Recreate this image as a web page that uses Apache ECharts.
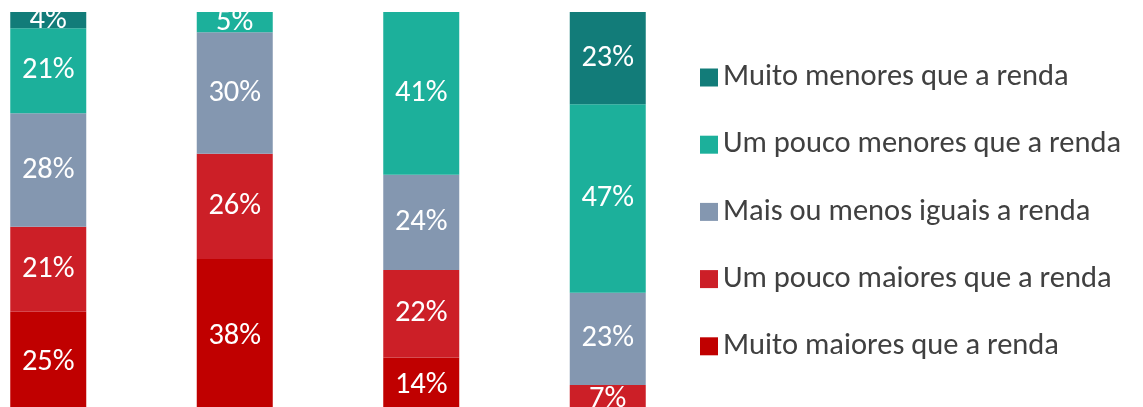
<!DOCTYPE html>
<html><head><meta charset="utf-8">
<script src="https://cdn.jsdelivr.net/npm/echarts@6/dist/echarts.min.js"></script>
<style>html,body{margin:0;padding:0;background:#fff}#c{width:1143px;height:407px}</style>
</head><body><div id="c"></div>
<script>
const categories = ['A', 'B', 'C', 'D'];
const seriesNames = ['Muito maiores que a renda', 'Um pouco maiores que a renda', 'Mais ou menos iguais a renda', 'Um pouco menores que a renda', 'Muito menores que a renda'];
const muitoMaiores = [25, 38, 14, 0];
const poucoMaiores = [21, 26, 22, 7];
const iguais = [28, 30, 24, 23];
const poucoMenores = [21, 5, 41, 47];
const muitoMenores = [4, 0, 0, 23];
const colors = ['#C00000', '#CC1F27', '#8497B0', '#1CB09B', '#127C79'];

const values = [muitoMaiores, poucoMaiores, iguais, poucoMenores, muitoMenores];
const totals = categories.map((_, i) => values.reduce((s, arr) => s + arr[i], 0));
const FONT = 'Carlito, Lato, sans-serif';

const chart = echarts.init(document.getElementById('c'), null, {renderer: 'canvas'});
chart.setOption({
  animation: false,
  grid: {left: -45, width: 746, top: 12, height: 401, containLabel: false, outerBoundsMode: 'none'},
  xAxis: {type: 'category', data: categories, show: false},
  yAxis: {type: 'value', min: 0, max: 100, show: false},
  legend: {
    orient: 'vertical', left: 695, top: 57,
    itemWidth: 18, itemHeight: 18, itemGap: 36.2,
    icon: 'rect',
    data: seriesNames.slice().reverse(),
    textStyle: {fontFamily: FONT, fontSize: 30.5, color: '#404040', lineHeight: 30, padding: [0, 0, 0, 0]}
  },
  series: seriesNames.map((name, k) => ({
    name, type: 'bar', stack: 'total', barWidth: 76,
    itemStyle: {color: colors[k]},
    label: {
      show: true, position: 'inside', color: '#fff',
      fontFamily: FONT, fontSize: 30.5,
      formatter: p => values[k][p.dataIndex] > 0 ? values[k][p.dataIndex] + '%' : ''
    },
    data: values[k].map((v, i) => v > 0 ? v / totals[i] * 100 : '-')
  }))
});
</script></body></html>
